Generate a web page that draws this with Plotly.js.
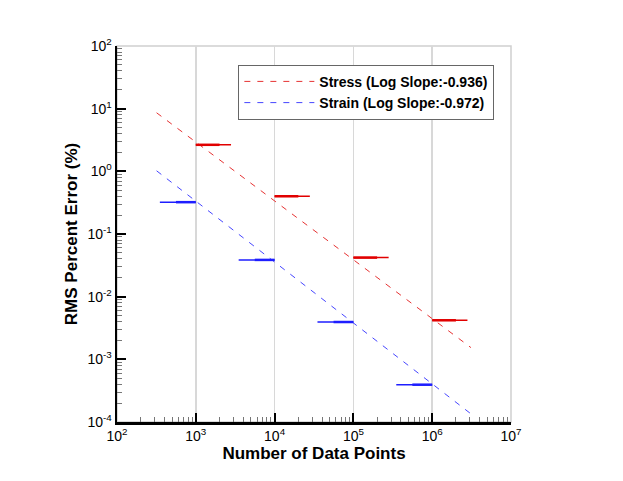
<!DOCTYPE html>
<html>
<head>
<meta charset="utf-8">
<script src="https://cdn.plot.ly/plotly-3.0.1.min.js"></script>
<style>
  html, body { margin: 0; padding: 0; background: #fff; }
  #chart { width: 623px; height: 481px; }
</style>
</head>
<body>
<div id="chart"></div>
<script>
// sample sizes where the error was measured
const sampleSizes = [1e3, 1e4, 1e5, 1e6];
// RMS percent error per sample size
const stressError = [2.65, 0.40, 0.042, 0.0042];
const strainError = [0.322, 0.0386, 0.00394, 0.000394];
// spread of the runs around each sample size (x extent of the marks)
const stressRunMax = [2.8e3, 2.8e4, 2.8e5, 2.8e6];
const stressRunMid = [2.0e3, 2.0e4, 2.0e5, 2.0e6];
const strainRunMin = [3.5e2, 3.5e3, 3.5e4, 3.5e5];
const strainRunMid = [5.6e2, 5.6e3, 5.6e4, 5.6e5];
// log-log fits
const fitN = [318, 3.1e6];
const stressFit = [8.6, 0.00154];
const strainFit = [1.02, 0.000135];
// axis ticks
const xTickVals = [1e2, 1e3, 1e4, 1e5, 1e6, 1e7];
const xTickText = ['10<sup>2</sup>', '10<sup>3</sup>', '10<sup>4</sup>', '10<sup>5</sup>', '10<sup>6</sup>', '10<sup>7</sup>'];
const yTickVals = [1e-4, 1e-3, 1e-2, 1e-1, 1, 10, 100];
const yTickText = ['10<sup>-4</sup>', '10<sup>-3</sup>', '10<sup>-2</sup>', '10<sup>-1</sup>', '10<sup>0</sup>', '10<sup>1</sup>', '10<sup>2</sup>'];

const RED = 'rgb(225,0,0)';
const BLUE = 'rgb(30,30,255)';

// horizontal run segments: from a to b at height y, broken with nulls
function segments(a, b, y) {
    let xs = [], ys = [];
    for (let i = 0; i < y.length; i++) {
        xs.push(a[i], b[i], null);
        ys.push(y[i], y[i], null);
    }
    return {x: xs, y: ys};
}

let stressThin = segments(sampleSizes, stressRunMax, stressError);
let stressThick = segments(sampleSizes, stressRunMid, stressError);
let strainThin = segments(strainRunMin, sampleSizes, strainError);
let strainThick = segments(strainRunMid, sampleSizes, strainError);

let data = [
    {x: fitN, y: stressFit, mode: 'lines', name: 'Stress (Log Slope:-0.936)',
     line: {color: 'rgb(230,50,50)', width: 1, dash: '6px,7px'}},
    {x: fitN, y: strainFit, mode: 'lines', name: 'Strain (Log Slope:-0.972)',
     line: {color: 'rgb(70,70,255)', width: 1, dash: '6px,7px'}},
    {x: stressThin.x, y: stressThin.y, mode: 'lines', showlegend: false,
     line: {color: RED, width: 1.5}},
    {x: stressThick.x, y: stressThick.y, mode: 'lines', showlegend: false,
     line: {color: RED, width: 2.5}},
    {x: strainThin.x, y: strainThin.y, mode: 'lines', showlegend: false,
     line: {color: BLUE, width: 1.5}},
    {x: strainThick.x, y: strainThick.y, mode: 'lines', showlegend: false,
     line: {color: BLUE, width: 2.5}}
];

let layout = {
    width: 623,
    height: 481,
    margin: {l: 117, r: 112, t: 46, b: 59},
    paper_bgcolor: '#fff',
    plot_bgcolor: '#fff',
    font: {family: 'Liberation Sans, Arial, sans-serif', size: 14, color: '#000'},
    showlegend: true,
    legend: {
        x: 0.308, y: 0.95, xanchor: 'left', yanchor: 'top',
        bgcolor: '#fff', bordercolor: '#666', borderwidth: 1,
        font: {size: 14, weight: 'bold'},
        itemwidth: 70,
        tracegroupgap: 0
    },
    xaxis: {
        type: 'log',
        range: [2, 7],
        tickvals: xTickVals,
        ticktext: xTickText,
        ticks: 'inside', ticklen: 9, tickwidth: 2, tickcolor: '#000',
        showline: true, linecolor: '#000', linewidth: 2.5,
        showgrid: true, gridcolor: '#d8d8d8', gridwidth: 1.5,
        zeroline: false,
        minor: {ticks: 'inside', ticklen: 5, tickcolor: '#777', tickwidth: 1, dtick: 'D1', showgrid: false},
        title: {text: 'Number of Data Points', font: {size: 17, weight: 'bold'}, standoff: 4}
    },
    yaxis: {
        type: 'log',
        range: [-4, 2],
        tickvals: yTickVals,
        ticktext: yTickText,
        ticks: 'inside', ticklen: 9, tickwidth: 2, tickcolor: '#000',
        showline: true, linecolor: '#000', linewidth: 2.5,
        showgrid: false,
        zeroline: false,
        minor: {ticks: 'inside', ticklen: 5, tickcolor: '#777', tickwidth: 1, dtick: 'D1', showgrid: false},
        title: {text: 'RMS Percent Error (%)', font: {size: 17, weight: 'bold'}, standoff: 6}
    },
    shapes: [
        {type: 'rect', xref: 'paper', yref: 'paper', x0: 0, x1: 1, y0: 0, y1: 1,
         line: {color: '#d0d0d0', width: 1.5}, layer: 'below'}
    ]
};

Plotly.newPlot('chart', data, layout, {staticPlot: true});
</script>
</body>
</html>
